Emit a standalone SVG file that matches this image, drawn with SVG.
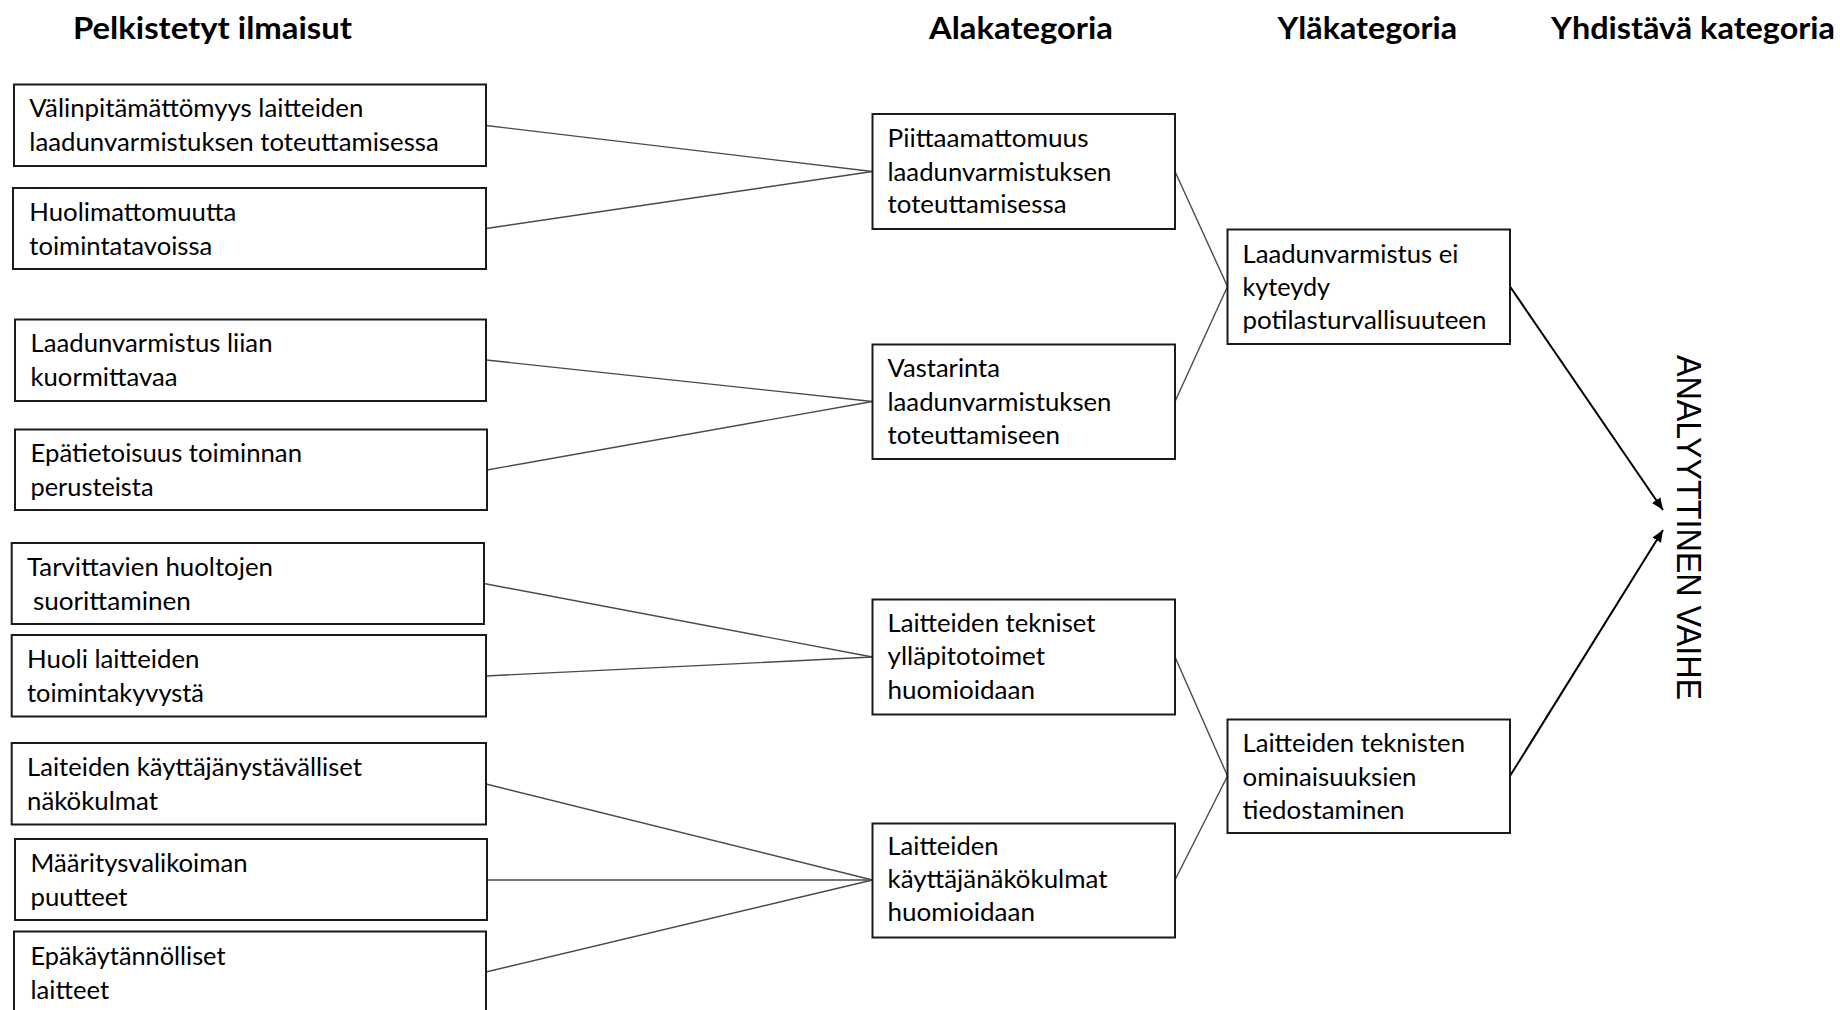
<svg xmlns="http://www.w3.org/2000/svg" width="1840" height="1010" viewBox="0 0 1840 1010">
<defs>
<style>
.bg{fill:#fff}
.box{fill:#fff;stroke:#1a1a1a;stroke-width:2}
.t{font-family:Lato,"Open Sans","DejaVu Sans",sans-serif;font-size:25px;fill:#000}
.h{font-family:Lato,"Open Sans","DejaVu Sans",sans-serif;font-size:30px;font-weight:bold;fill:#000}
.v{font-family:"Liberation Sans",Arial,sans-serif;font-size:35px;fill:#000}
.c{fill:none;stroke:#4a4a4a;stroke-width:1.4}
.a{fill:none;stroke:#000;stroke-width:2}
</style>
<marker id="arr" viewBox="0 0 12 10" refX="12" refY="5" markerWidth="12" markerHeight="10" markerUnits="userSpaceOnUse" orient="auto">
<path d="M0,0 L12,5 L0,10 Z" fill="#000"/>
</marker>
</defs>
<rect class="bg" x="0" y="0" width="1840" height="1010"/>

<g id="headers">
<text class="h" x="73" y="39" textLength="279" lengthAdjust="spacingAndGlyphs">Pelkistetyt ilmaisut</text>
<text class="h" x="929" y="39" textLength="184" lengthAdjust="spacingAndGlyphs">Alakategoria</text>
<text class="h" x="1277.5" y="39" textLength="179.5" lengthAdjust="spacingAndGlyphs">Yläkategoria</text>
<text class="h" x="1551" y="39" textLength="284" lengthAdjust="spacingAndGlyphs">Yhdistävä kategoria</text>
</g>

<g id="connectors">
<line class="c" x1="486" y1="125.5" x2="872.5" y2="171.5"/>
<line class="c" x1="486" y1="228.5" x2="872.5" y2="171.5"/>
<line class="c" x1="486" y1="360" x2="872.5" y2="401.5"/>
<line class="c" x1="487" y1="470" x2="872.5" y2="401.5"/>
<line class="c" x1="484" y1="583.5" x2="872.5" y2="657"/>
<line class="c" x1="486" y1="676" x2="872.5" y2="657"/>
<line class="c" x1="486" y1="784" x2="872.5" y2="880"/>
<line class="c" x1="487" y1="880" x2="872.5" y2="880"/>
<line class="c" x1="486" y1="972" x2="872.5" y2="880"/>
<line class="c" x1="1175" y1="171.5" x2="1227.5" y2="286.5"/>
<line class="c" x1="1175" y1="401.5" x2="1227.5" y2="286.5"/>
<line class="c" x1="1175" y1="657" x2="1227.5" y2="776"/>
<line class="c" x1="1175" y1="880" x2="1227.5" y2="776"/>
<line class="a" x1="1510" y1="286.5" x2="1663" y2="510" marker-end="url(#arr)"/>
<line class="a" x1="1510" y1="776" x2="1663" y2="530" marker-end="url(#arr)"/>
</g>

<g id="p1">
<rect class="box" x="14" y="84.5" width="472" height="81.5"/>
<text class="t" x="29.3" y="117.3" textLength="334" lengthAdjust="spacingAndGlyphs">Välinpitämättömyys laitteiden</text>
<text class="t" x="29.3" y="151.3" textLength="409.5" lengthAdjust="spacingAndGlyphs">laadunvarmistuksen toteuttamisessa</text>
</g>
<g id="p2">
<rect class="box" x="13" y="188" width="473" height="81"/>
<text class="t" x="29.3" y="220.8" textLength="207" lengthAdjust="spacingAndGlyphs">Huolimattomuutta</text>
<text class="t" x="29.3" y="254.8" textLength="183" lengthAdjust="spacingAndGlyphs">toimintatavoissa</text>
</g>
<g id="p3">
<rect class="box" x="15" y="319.5" width="471" height="81.5"/>
<text class="t" x="30.5" y="352.3" textLength="242" lengthAdjust="spacingAndGlyphs">Laadunvarmistus liian</text>
<text class="t" x="30.5" y="386.3" textLength="147" lengthAdjust="spacingAndGlyphs">kuormittavaa</text>
</g>
<g id="p4">
<rect class="box" x="15" y="429.5" width="472" height="80.5"/>
<text class="t" x="30.5" y="461.8" textLength="271.5" lengthAdjust="spacingAndGlyphs">Epätietoisuus toiminnan</text>
<text class="t" x="30.5" y="495.8" textLength="123" lengthAdjust="spacingAndGlyphs">perusteista</text>
</g>
<g id="p5">
<rect class="box" x="11.7" y="543" width="472.3" height="81"/>
<text class="t" x="27" y="575.5" textLength="246" lengthAdjust="spacingAndGlyphs">Tarvittavien huoltojen</text>
<text class="t" x="32.9" y="609.5" textLength="158" lengthAdjust="spacingAndGlyphs">suorittaminen</text>
</g>
<g id="p6">
<rect class="box" x="11.7" y="635" width="474.3" height="81.5"/>
<text class="t" x="27" y="667.8" textLength="172.5" lengthAdjust="spacingAndGlyphs">Huoli laitteiden</text>
<text class="t" x="27" y="701.8" textLength="177" lengthAdjust="spacingAndGlyphs">toimintakyvystä</text>
</g>
<g id="p7">
<rect class="box" x="11.7" y="743" width="474.3" height="81.5"/>
<text class="t" x="27" y="775.8" textLength="335" lengthAdjust="spacingAndGlyphs">Laiteiden käyttäjänystävälliset</text>
<text class="t" x="27" y="809.8" textLength="131" lengthAdjust="spacingAndGlyphs">näkökulmat</text>
</g>
<g id="p8">
<rect class="box" x="15" y="839" width="472" height="81"/>
<text class="t" x="30.5" y="871.5" textLength="217" lengthAdjust="spacingAndGlyphs">Määritysvalikoiman</text>
<text class="t" x="30.5" y="905.5" textLength="97" lengthAdjust="spacingAndGlyphs">puutteet</text>
</g>
<g id="p9">
<rect class="box" x="14" y="931.5" width="472" height="82"/>
<text class="t" x="30.5" y="964.5" textLength="195" lengthAdjust="spacingAndGlyphs">Epäkäytännölliset</text>
<text class="t" x="30.5" y="998.5" textLength="78.6" lengthAdjust="spacingAndGlyphs">laitteet</text>
</g>

<g id="a1">
<rect class="box" x="872.5" y="114" width="302.5" height="115"/>
<text class="t" x="887.5" y="146.7" textLength="201" lengthAdjust="spacingAndGlyphs">Piittaamattomuus</text>
<text class="t" x="887.5" y="180.5" textLength="224" lengthAdjust="spacingAndGlyphs">laadunvarmistuksen</text>
<text class="t" x="887.5" y="213.3" textLength="179" lengthAdjust="spacingAndGlyphs">toteuttamisessa</text>
</g>
<g id="a2">
<rect class="box" x="872.5" y="344.5" width="302.5" height="114.5"/>
<text class="t" x="887.5" y="376.7" textLength="112.5" lengthAdjust="spacingAndGlyphs">Vastarinta</text>
<text class="t" x="887.5" y="410.5" textLength="224" lengthAdjust="spacingAndGlyphs">laadunvarmistuksen</text>
<text class="t" x="887.5" y="443.8" textLength="172.5" lengthAdjust="spacingAndGlyphs">toteuttamiseen</text>
</g>
<g id="a3">
<rect class="box" x="872.5" y="599.5" width="302.5" height="115"/>
<text class="t" x="887.5" y="631.7" textLength="208" lengthAdjust="spacingAndGlyphs">Laitteiden tekniset</text>
<text class="t" x="887.5" y="665.3" textLength="157.5" lengthAdjust="spacingAndGlyphs">ylläpitotoimet</text>
<text class="t" x="887.5" y="698.8" textLength="147.5" lengthAdjust="spacingAndGlyphs">huomioidaan</text>
</g>
<g id="a4">
<rect class="box" x="872.5" y="823.5" width="302.5" height="114"/>
<text class="t" x="887.5" y="855" textLength="111" lengthAdjust="spacingAndGlyphs">Laitteiden</text>
<text class="t" x="887.5" y="888.2" textLength="220" lengthAdjust="spacingAndGlyphs">käyttäjänäkökulmat</text>
<text class="t" x="887.5" y="921.2" textLength="147.5" lengthAdjust="spacingAndGlyphs">huomioidaan</text>
</g>

<g id="y1">
<rect class="box" x="1227.5" y="229.5" width="282.5" height="114.5"/>
<text class="t" x="1242.5" y="262.5" textLength="216" lengthAdjust="spacingAndGlyphs">Laadunvarmistus ei</text>
<text class="t" x="1242.5" y="296.3" textLength="87.5" lengthAdjust="spacingAndGlyphs">kyteydy</text>
<text class="t" x="1242.5" y="329.3" textLength="244" lengthAdjust="spacingAndGlyphs">potilasturvallisuuteen</text>
</g>
<g id="y2">
<rect class="box" x="1227.5" y="719.5" width="282.5" height="113.5"/>
<text class="t" x="1242.5" y="752.3" textLength="222.5" lengthAdjust="spacingAndGlyphs">Laitteiden teknisten</text>
<text class="t" x="1242.5" y="786" textLength="174" lengthAdjust="spacingAndGlyphs">ominaisuuksien</text>
<text class="t" x="1242.5" y="819" textLength="162" lengthAdjust="spacingAndGlyphs">tiedostaminen</text>
</g>

<g id="yhdistava">
<text class="v" transform="translate(1677,355) rotate(90)" textLength="345" lengthAdjust="spacingAndGlyphs">ANALYYTTINEN VAIHE</text>
</g>
</svg>
